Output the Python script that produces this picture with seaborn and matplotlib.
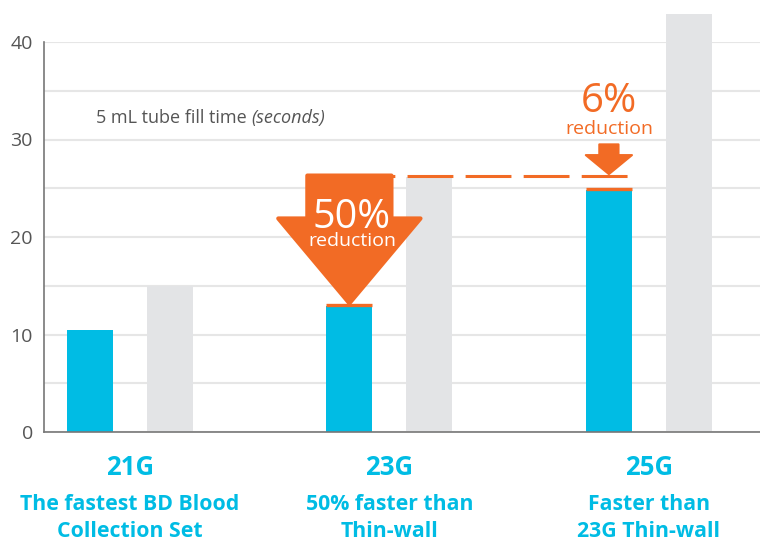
import matplotlib
matplotlib.use("Agg")
import matplotlib.pyplot as plt
import seaborn as sns
import pandas as pd
from matplotlib.patches import Polygon

# ---- data ----
gauges = ["21G", "23G", "25G"]
subtitles = [["The fastest BD Blood", "Collection Set"], ["50% faster than", "Thin-wall"], ["Faster than", "23G Thin-wall"]]
series = ["BD", "Thin-wall"]
bd_values = [10.5, 12.9, 24.8]
thinwall_values = [15.0, 26.2, 42.9]
reduction_labels = ["", "50%", "6%"]
y_ticks = [0, 10, 20, 30, 40]
chart_label = "5 mL tube fill time "
chart_unit = "(seconds)"

BLUE = "#00BCE4"
GRAY = "#E3E4E6"
ORANGE = "#F26B25"
TEXT = "#555555"

sns.set_theme(style="white")
plt.rcParams["font.family"] = ["Open Sans", "DejaVu Sans"]

df = pd.DataFrame({
    "gauge": gauges * 2,
    "time": bd_values + thinwall_values,
    "set": [series[0]] * 3 + [series[1]] * 3,
})

fig = plt.figure(figsize=(7.6, 5.42), dpi=100)
ax = fig.add_axes([44 / 760, 1 - 432 / 542, 1 - 44 / 760, 390 / 542])

sns.barplot(data=df, x="gauge", y="time", hue="set", palette=[BLUE, GRAY],
            width=0.617, gap=0.425, saturation=1, legend=False, ax=ax, zorder=2)
for p in ax.patches:
    p.set_clip_on(False)
    p.set_edgecolor("none")

ax.set_ylim(0, 40)
ax.set_xlim(-0.331, 2.428)
ax.set_yticks(range(0, 41, 5), minor=False)
ax.set_yticklabels([str(v) if v in y_ticks else "" for v in range(0, 41, 5)])
ax.yaxis.grid(True, color="#E6E6E6", linewidth=1.5, zorder=0)
ax.set_axisbelow(True)
ax.tick_params(axis="y", length=0, pad=8, labelsize=14, labelcolor=TEXT)
ax.tick_params(axis="x", length=0)
ax.set_xticklabels([])
ax.set_xlabel("")
ax.set_ylabel("")
for s in ["top", "right"]:
    ax.spines[s].set_visible(False)
for s in ["left", "bottom"]:
    ax.spines[s].set_color("#777777")
    ax.spines[s].set_linewidth(1.2)

# bar geometry from library
blue_bars = ax.containers[0]
centers = [b.get_x() + b.get_width() / 2 for b in blue_bars]
widths = [b.get_width() for b in blue_bars]

# orange caps on the improved bars
for i in (1, 2):
    ax.plot([centers[i] - widths[i] / 2, centers[i] + widths[i] / 2],
            [bd_values[i] + 0.15, bd_values[i] + 0.15], color=ORANGE,
            lw=2.4, solid_capstyle="butt", zorder=3)

# dashed reference line at 23G thin-wall level
ref = thinwall_values[1]
ax.plot([centers[1], centers[2] + widths[2] / 2], [ref + 0.05, ref + 0.05],
        color=ORANGE, lw=2.2, dashes=(15, 4), zorder=3)

# big arrow (50%)
cx = centers[1]
sh, wh = 0.162, 0.274
top, wing, tip = ref + 0.1, ref - 4.3, bd_values[1] + 0.3
big = Polygon([(cx - sh, top), (cx + sh, top), (cx + sh, wing), (cx + wh, wing),
               (cx, tip), (cx - wh, wing), (cx - sh, wing)], closed=True,
              facecolor=ORANGE, edgecolor=ORANGE, lw=3, joinstyle="round", zorder=4)
ax.add_patch(big)
ax.text(cx + 0.01, 20.95, reduction_labels[1], color="white", fontsize=28.5,
        ha="center", va="baseline", zorder=5)
ax.text(cx + 0.01, 19.6, "reduction", color="white", fontsize=14,
        ha="center", va="center", zorder=5)

# small arrow (6%)
cx2 = centers[2]
sh2, wh2 = 0.037, 0.089
top2, wing2, tip2 = ref + 3.3, ref + 2.2, ref + 0.25
small = Polygon([(cx2 - sh2, top2), (cx2 + sh2, top2), (cx2 + sh2, wing2),
                 (cx2 + wh2, wing2), (cx2, tip2), (cx2 - wh2, wing2),
                 (cx2 - sh2, wing2)], closed=True, facecolor=ORANGE,
                edgecolor=ORANGE, lw=1.5, joinstyle="round", zorder=4)
ax.add_patch(small)
ax.text(cx2, 32.85, reduction_labels[2], color=ORANGE, fontsize=29,
        ha="center", va="baseline", zorder=5)
ax.text(cx2, 31.1, "reduction", color=ORANGE, fontsize=14,
        ha="center", va="center", zorder=5)

# chart label
t = ax.text(0.0726, 0.805, chart_label, transform=ax.transAxes, color=TEXT,
            fontsize=13, ha="left", va="center")
fig.canvas.draw()
bb = t.get_window_extent(renderer=fig.canvas.get_renderer())
x_end = ax.transAxes.inverted().transform((bb.x1, bb.y0))[0]
ax.text(x_end, 0.805, chart_unit, transform=ax.transAxes, color=TEXT,
        fontsize=13, style="italic", ha="left", va="center")

# category labels
xt = ax.get_xaxis_transform()
for i, (g, s) in enumerate(zip(gauges, subtitles)):
    ax.text(i, -0.0923, g, transform=xt, color=BLUE, fontsize=18.5,
            fontweight="bold", ha="center", va="center")
    ax.text(i, -0.187, s[0], transform=xt, color=BLUE, fontsize=15.3,
            fontweight="bold", ha="center", va="center")
    ax.text(i, -0.2545, s[1], transform=xt, color=BLUE, fontsize=15.3,
            fontweight="bold", ha="center", va="center")

fig.savefig("out.png", dpi=100)
